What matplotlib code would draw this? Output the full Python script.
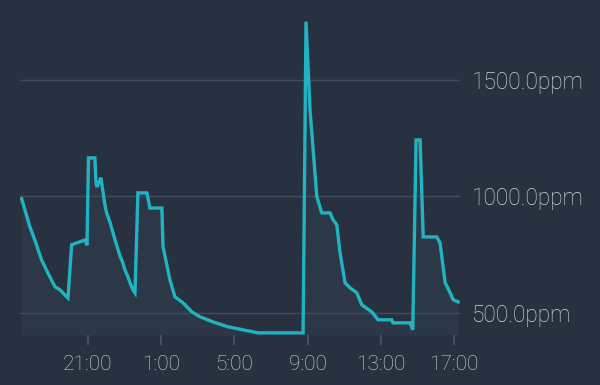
import matplotlib
matplotlib.use('Agg')
import matplotlib.pyplot as plt

# hours since midnight of day 1 (25 = 1:00 next day), CO2 in ppm
hours = [17.38, 17.56, 17.83, 18.10, 18.47, 18.81, 19.20, 19.47, 19.74, 19.91,
         20.11, 20.84, 20.95, 21.03, 21.38, 21.44, 21.49, 21.71,
         21.93, 22.02, 22.20, 22.48, 22.75, 22.91, 23.02, 23.19, 23.30, 23.46, 23.57,
         23.73, 24.22, 24.39, 25.04, 25.10,
         25.48, 25.75, 26.19, 26.68, 27.12, 27.83, 28.65, 30.29, 32.75,
         32.91, 33.13, 33.50, 33.77, 34.22, 34.39, 34.59, 34.77, 35.04, 35.32,
         35.68, 35.96, 36.50, 36.85, 37.59, 37.66, 38.60, 38.74,
         38.92, 39.14, 39.31, 40.05, 40.23, 40.51, 40.78, 40.95, 41.22]
ppm = [990, 942, 869, 813, 727, 672, 612, 599, 577, 564,
       792, 813, 790, 1165, 1165, 1060, 1040, 1080,
       963, 929, 890, 813, 745, 714, 685, 654, 629, 599, 586,
       1015, 1015, 950, 950, 785,
       641, 569, 543, 504, 483, 461, 440, 414, 414,
       1750, 1371, 999, 929, 929, 899, 878, 757, 629, 607,
       586, 534, 504, 470, 470, 457, 457, 427,
       1242, 1242, 826, 826, 800, 629, 586, 556, 547]

tick_hours = [21, 25, 29, 33, 37, 41]
tick_labels = ['21:00', '1:00', '5:00', '9:00', '13:00', '17:00']
y_ticks = [500, 1000, 1500]

bg = '#27313f'
line_color = '#22b3c3'
text_color = '#d3d6db'

fig = plt.figure(figsize=(6, 3.85), dpi=100, facecolor=bg)
ax = fig.add_axes([0.033, 0.13, 0.734, 0.87])
ax.set_facecolor(bg)

ymin, ymax = 405, 1843
ax.fill_between(hours, ppm, ymin, color='#2c3848', lw=0, zorder=1)
ax.plot(hours, ppm, color=line_color, lw=2.4, zorder=3, solid_joinstyle='miter')

ax.set_xlim(17.28, 41.33)
ax.set_ylim(ymin, ymax)

for y in y_ticks:
    ax.axhline(y, color='#414d5c', lw=1, zorder=2)

ax.set_xticks(tick_hours)
ax.set_xticklabels(tick_labels)
ax.set_yticks(y_ticks)
ax.set_yticklabels([f'{v:.1f}ppm' for v in y_ticks])
ax.yaxis.tick_right()
ax.tick_params(axis='x', colors='#4a5666', length=7.5, width=1.2, pad=7,
               labelcolor=text_color, labelsize=15)
ax.tick_params(axis='y', length=0, pad=8.5, labelcolor=text_color, labelsize=16.3)
for lbl in ax.get_xticklabels() + ax.get_yticklabels():
    lbl.set_family(['Roboto', 'DejaVu Sans'])
    lbl.set_fontweight('light')

for s in ax.spines.values():
    s.set_visible(False)

fig.savefig('out.png', dpi=100, facecolor=bg)
